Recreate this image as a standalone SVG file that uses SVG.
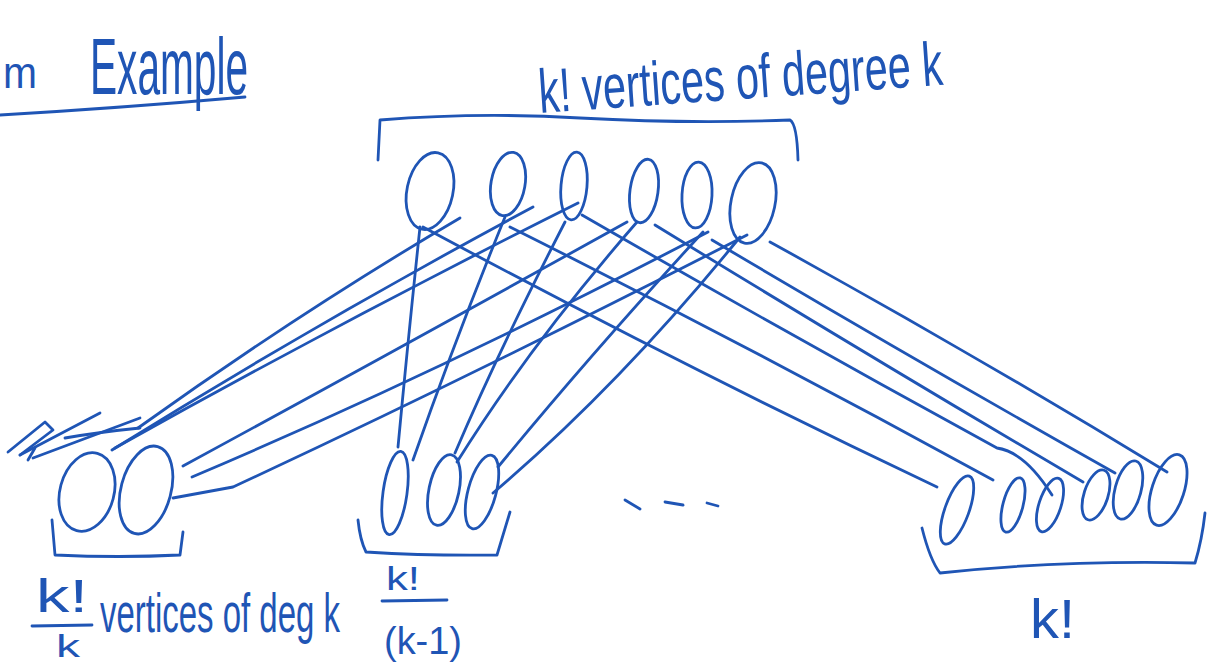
<svg xmlns="http://www.w3.org/2000/svg" width="1212" height="664" viewBox="0 0 1212 664">
  <style>
    .ink { fill: none; stroke: #1f55b5; stroke-width: 2.8; stroke-linecap: round; stroke-linejoin: round; }
    .hand { fill: #1f55b5; font-family: "Liberation Sans", "DejaVu Sans", sans-serif; }
  </style>
  <rect width="1212" height="664" fill="#ffffff"/>

  <!-- heading -->
  <g id="heading">
    <text class="hand" x="3" y="88" font-size="44" textLength="34" lengthAdjust="spacingAndGlyphs">m</text>
    <text class="hand" x="90" y="94" font-size="80" textLength="158" lengthAdjust="spacingAndGlyphs">Example</text>
    <path class="ink" d="M0,115 Q120,108 245,97"/>
  </g>

  <!-- connectors -->
  <g id="edges" class="ink">
    <!-- to left group -->
    <path d="M460,218 Q300,312 138,428"/>
    <path d="M533,207 Q318,322 112,450"/>
    <path d="M578,203 Q340,322 115,448"/>
    <path d="M627,222 Q400,348 183,466"/>
    <path d="M708,232 Q440,372 192,477"/>
    <path d="M747,235 Q480,372 233,487 L173,498"/>
    <!-- to middle group -->
    <path d="M420,227 Q408,340 398,447"/>
    <path d="M505,217 Q455,340 413,460"/>
    <path d="M565,222 Q498,352 455,453"/>
    <path d="M637,222 Q530,345 457,462"/>
    <path d="M703,232 Q590,355 498,467"/>
    <path d="M740,237 Q620,385 493,493"/>
    <!-- to right group -->
    <path d="M423,227 Q680,365 937,487"/>
    <path d="M510,227 Q752,348 993,480"/>
    <path d="M582,215 Q790,335 997,448 Q1025,452 1052,495"/>
    <path d="M655,225 Q872,358 1083,482"/>
    <path d="M712,240 Q918,362 1115,473"/>
    <path d="M770,242 Q970,352 1167,472"/>
  </g>

  <!-- crossed-out marks -->
  <g id="scribble" class="ink" stroke-width="2.4">
    <path d="M8,452 L45,422 L53,430 L20,455"/>
    <path d="M20,455 L100,413"/>
    <path d="M33,458 L140,418"/>
    <path d="M65,438 Q100,432 140,428"/>
    <path d="M28,460 L35,448"/>
  </g>

  <!-- top vertices -->
  <g id="top-vertices" class="ink">
    <ellipse id="t1" cx="430" cy="191" rx="23" ry="39" transform="rotate(12 430 191)"/>
    <ellipse id="t2" cx="508" cy="184" rx="17" ry="32" transform="rotate(10 508 184)"/>
    <ellipse id="t3" cx="574" cy="186" rx="13" ry="34" transform="rotate(5 574 186)"/>
    <ellipse id="t4" cx="644" cy="191" rx="14" ry="32" transform="rotate(8 644 191)"/>
    <ellipse id="t5" cx="697" cy="195" rx="15" ry="33" transform="rotate(3 697 195)"/>
    <ellipse id="t6" cx="753" cy="203" rx="22" ry="41" transform="rotate(12 753 203)"/>
  </g>
  <g id="top-brace">
    <path class="ink" d="M378,160 L380,120 Q480,112 580,118 Q690,124 790,120 Q797,124 798,160"/>
    <text class="hand" x="540" y="113" font-size="62" textLength="405" lengthAdjust="spacingAndGlyphs" transform="rotate(-4 540 113)">k! vertices of degree k</text>
  </g>

  <!-- left group -->
  <g id="left-group">
    <ellipse class="ink" cx="87" cy="492" rx="27" ry="40" transform="rotate(15 87 492)"/>
    <ellipse class="ink" cx="146" cy="490" rx="25" ry="45" transform="rotate(15 146 490)"/>
    <path class="ink" d="M52,520 L55,555 Q120,558 180,555 L183,532"/>
    <text class="hand" x="36" y="612" font-size="46" textLength="52" lengthAdjust="spacingAndGlyphs">k!</text>
    <path class="ink" d="M32,626 L92,625"/>
    <text class="hand" x="56" y="657" font-size="32" textLength="24" lengthAdjust="spacingAndGlyphs">k</text>
    <text class="hand" x="100" y="632" font-size="56" textLength="240" lengthAdjust="spacingAndGlyphs">vertices of deg k</text>
  </g>

  <!-- middle group -->
  <g id="middle-group">
    <ellipse class="ink" cx="395" cy="493" rx="12" ry="42" transform="rotate(8 395 493)"/>
    <ellipse class="ink" cx="444" cy="490" rx="15" ry="36" transform="rotate(12 444 490)"/>
    <ellipse class="ink" cx="482" cy="492" rx="14" ry="38" transform="rotate(15 482 492)"/>
    <path class="ink" d="M358,520 Q360,540 366,552 Q430,556 497,555 L510,512"/>
    <text class="hand" x="386" y="590" font-size="34" textLength="34" lengthAdjust="spacingAndGlyphs">k!</text>
    <path class="ink" d="M382,601 L447,600"/>
    <text class="hand" x="384" y="654" font-size="38" textLength="78" lengthAdjust="spacingAndGlyphs">(k-1)</text>
  </g>

  <!-- ellipsis between groups -->
  <g id="dots" class="ink">
    <path d="M625,500 L640,509"/>
    <path d="M665,502 L683,505"/>
    <path d="M707,503 L718,506"/>
  </g>

  <!-- right group -->
  <g id="right-group">
    <ellipse class="ink" cx="957" cy="510" rx="12" ry="36" transform="rotate(20 957 510)"/>
    <ellipse class="ink" cx="1013" cy="505" rx="10" ry="28" transform="rotate(15 1013 505)"/>
    <ellipse class="ink" cx="1050" cy="505" rx="11" ry="28" transform="rotate(18 1050 505)"/>
    <ellipse class="ink" cx="1096" cy="495" rx="12" ry="26" transform="rotate(18 1096 495)"/>
    <ellipse class="ink" cx="1128" cy="490" rx="13" ry="30" transform="rotate(15 1128 490)"/>
    <ellipse class="ink" cx="1168" cy="490" rx="16" ry="37" transform="rotate(18 1168 490)"/>
    <path class="ink" d="M922,528 Q930,560 940,573 Q1060,560 1195,563 Q1202,540 1205,513"/>
    <text class="hand" x="1030" y="638" font-size="56" textLength="45" lengthAdjust="spacingAndGlyphs">k!</text>
  </g>
</svg>
